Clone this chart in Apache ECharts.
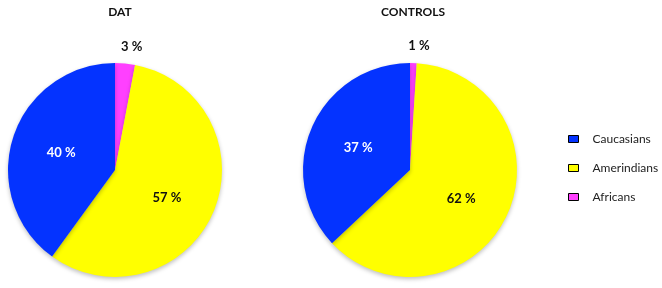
<!DOCTYPE html>
<html>
<head>
<meta charset="utf-8">
<script src="https://cdn.jsdelivr.net/npm/echarts@6/dist/echarts.min.js"></script>
<style>
  html, body { margin: 0; padding: 0; background: #fff; }
  #chart { width: 662px; height: 288px; }
</style>
</head>
<body>
<div id="chart"></div>
<script>
// groups and shares (%)
const groups = ['Africans', 'Amerindians', 'Caucasians']
const legendOrder = ['Caucasians', 'Amerindians', 'Africans']
const datValues = [3, 57, 40]
const controlValues = [1, 62, 37]
const panelTitles = ['DAT', 'CONTROLS']

const colors = {
  Africans: '#ff40ff',
  Amerindians: '#ffff00',
  Caucasians: '#0433ff'
}
const labelColors = {
  Africans: '#111',
  Amerindians: '#111',
  Caucasians: '#fff'
}

const fontFamily = 'Lato, "Open Sans", sans-serif'

function buildData (values) {
  return groups.map((name, i) => {
    let item = {
      name: name,
      value: values[i],
      itemStyle: { color: colors[name] },
      label: { color: labelColors[name] }
    }
    // the small slice gets its label above the pie
    if (name === 'Africans') {
      item.label.position = 'outside'
      item.labelLine = { show: false }
    }
    return item
  })
}

function buildSeries (values, cx) {
  return {
    type: 'pie',
    radius: 107,
    center: [cx, 170],
    startAngle: 90,
    clockwise: true,
    avoidLabelOverlap: false,
    data: buildData(values),
    label: {
      show: true,
      position: 'inside',
      formatter: '{c} %',
      fontFamily: fontFamily,
      fontWeight: 'bold',
      fontSize: 13
    },
    labelLine: { length: 17, length2: 0 },
    labelLayout: function (p) {
      if (p.dataIndex === 0) {
        return { align: 'center', verticalAlign: 'middle' }
      }
      if (p.dataIndex === 1) {
        return { dy: 5 }
      }
      return {}
    },
    itemStyle: {
      borderWidth: 0,
      shadowBlur: 4,
      shadowOffsetY: 2,
      shadowColor: 'rgba(0,0,0,0.25)'
    },
    emphasis: { disabled: true }
  }
}

let myChart = echarts.init(document.getElementById('chart'), null, { renderer: 'canvas' })

let option = {
  animation: false,
  backgroundColor: '#fff',
  title: [
    {
      text: panelTitles[0],
      left: 115,
      top: 1,
      textAlign: 'center',
      textStyle: { fontFamily: fontFamily, fontWeight: 'bold', fontSize: 12, color: '#111' }
    },
    {
      text: panelTitles[1],
      left: 408,
      top: 1,
      textAlign: 'center',
      textStyle: { fontFamily: fontFamily, fontWeight: 'bold', fontSize: 12, color: '#111' }
    }
  ],
  legend: {
    orient: 'vertical',
    left: 563,
    top: 128,
    data: legendOrder,
    icon: 'rect',
    itemWidth: 10,
    itemHeight: 7,
    itemGap: 17,
    itemStyle: { borderColor: '#000', borderWidth: 1 },
    textStyle: {
      fontFamily: fontFamily,
      fontSize: 12,
      color: '#222',
      padding: [0, 0, 0, 9]
    }
  },
  series: [
    buildSeries(datValues, 115),
    buildSeries(controlValues, 410)
  ]
}

myChart.setOption(option, true)
</script>
</body>
</html>
